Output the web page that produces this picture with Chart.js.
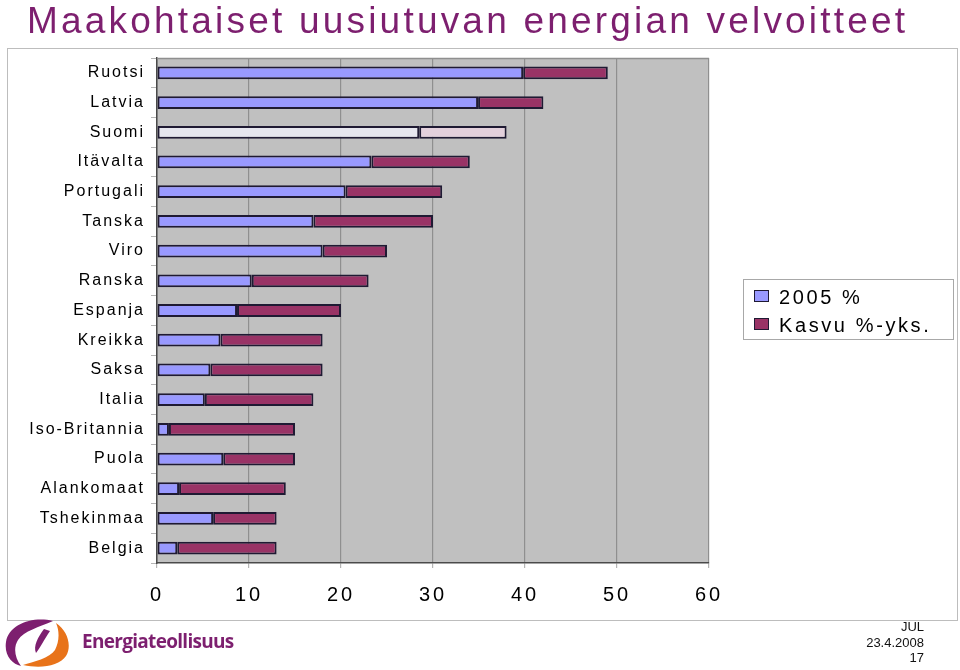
<!DOCTYPE html>
<html>
<head>
<meta charset="utf-8">
<script src="https://cdn.jsdelivr.net/npm/chart.js@4/dist/chart.umd.min.js"></script>
<style>
  html, body { margin: 0; padding: 0; background: #ffffff; }
  #wrap { position: relative; width: 960px; height: 670px; overflow: hidden; font-family: "Liberation Sans", Arial, sans-serif; }
  #c { position: absolute; left: 0; top: 0; }
  #title { position: absolute; left: 27px; top: 0px; font-size: 37px; line-height: 42px; color: #7D1F6F; letter-spacing: 3.2px; white-space: nowrap; }
  #frame { position: absolute; left: 7px; top: 48px; width: 949px; height: 571px; border: 1px solid #bdbdbd; pointer-events: none; }
  #legend { position: absolute; left: 743px; top: 279px; width: 209px; height: 59px; background: #fff; border: 1px solid #a8a8a8; }
  .li { position: absolute; left: 10px; height: 26px; font-size: 20px; letter-spacing: 2.6px; color: #000; white-space: nowrap; }
  .sw { position: absolute; left: 0; top: 6px; width: 15px; height: 12px; border: 1.5px solid #1f1a33; box-sizing: border-box; }
  .lt { position: absolute; left: 25px; top: 0px; line-height: 26px; }
  #foot { position: absolute; right: 36px; top: 619px; text-align: right; font-size: 13px; line-height: 15.5px; color: #111; }
  #brand { position: absolute; left: 82px; top: 628px; font-family: "Open Sans", sans-serif; font-weight: 700; font-size: 19px; letter-spacing: -0.7px; color: #7D1F6F; }
  #logo { position: absolute; left: 3px; top: 618px; }
</style>
</head>
<body>
<div id="wrap">
  <canvas id="c" width="960" height="670"></canvas>
  <div id="frame"></div>
  <div id="title">Maakohtaiset uusiutuvan energian velvoitteet</div>
  <div id="legend"></div>
  <svg id="logo" width="72" height="50" viewBox="0 0 72 50">
    <path d="M50,3 C30,-2 6,6 3,24 C1,37 9,46 18,48 C12,40 10,30 15,22 C21,13 36,9 50,3 Z" fill="#7D1F6F"/>
    <path d="M41,11 C35,19 30,28 33,35 C37,30 41,22 47,13 Z" fill="#7D1F6F"/>
    <path d="M53,5 C65,13 69,28 63,38 C56,48 38,51 20,47 C30,44 47,40 52,32 C56,24 57,14 53,5 Z" fill="#E8731A"/>
  </svg>
  <div id="brand">Energiateollisuus</div>
  <div id="foot">JUL<br>23.4.2008<br>17</div>
</div>
<script>
const categories = ['Ruotsi','Latvia','Suomi','Itävalta','Portugali','Tanska','Viro','Ranska','Espanja','Kreikka','Saksa','Italia','Iso-Britannia','Puola','Alankomaat','Tshekinmaa','Belgia'];
const share2005 = [39.8, 34.9, 28.5, 23.3, 20.5, 17.0, 18.0, 10.3, 8.7, 6.9, 5.8, 5.2, 1.3, 7.2, 2.4, 6.1, 2.2];
const increase  = [9.2, 7.1, 9.5, 10.7, 10.5, 13.0, 7.0, 12.7, 11.3, 11.1, 12.2, 11.8, 13.7, 7.8, 11.6, 6.9, 10.8];
const seriesNames = ['2005 %', 'Kasvu %-yks.'];
const xMin = 0, xMax = 60, xStep = 10;
const highlighted = 'Suomi';

const COL_BLUE = '#9999FF', COL_RED = '#993366';
const COL_BLUE_HI = '#E6E6EE', COL_RED_HI = '#E3D0DC';
const EDGE = '#1f1a33';

const letterSpacingPlugin = {
  id: 'letterSpacing',
  afterLayout(chart) {
    const sp = { x: '3px', y: '2px' };
    Object.keys(sp).forEach(id => {
      const s = chart.scales[id];
      if (s && !s._lsPatched) {
        const orig = s.drawLabels;
        s.drawLabels = function(area) {
          const ctx = this.ctx;
          const prev = ctx.letterSpacing;
          ctx.letterSpacing = sp[id];
          orig.call(this, area);
          ctx.letterSpacing = prev || '0px';
        };
        s._lsPatched = true;
      }
    });
  }
};

const plotBg = {
  id: 'plotBg',
  beforeDraw(chart) {
    const a = chart.chartArea, ctx = chart.ctx;
    ctx.save();
    ctx.fillStyle = '#C0C0C0';
    ctx.fillRect(a.left, a.top, a.right - a.left, a.bottom - a.top);
    ctx.restore();
  },
  afterDraw(chart) {
    const a = chart.chartArea, ctx = chart.ctx;
    ctx.save();
    ctx.strokeStyle = '#8f8f8f';
    ctx.lineWidth = 1.5;
    ctx.beginPath();
    ctx.moveTo(a.left, a.top + 0.5);
    ctx.lineTo(a.right, a.top + 0.5);
    ctx.stroke();
    ctx.restore();
  }
};

const chart = new Chart(document.getElementById('c'), {
  type: 'bar',
  data: {
    labels: categories,
    datasets: [
      {
        label: seriesNames[0],
        data: share2005,
        backgroundColor: c => categories[c.dataIndex] === highlighted ? COL_BLUE_HI : COL_BLUE,
        borderColor: EDGE,
        borderWidth: 2,
        borderSkipped: false,
        barPercentage: 0.86,
        categoryPercentage: 0.5
      },
      {
        label: seriesNames[1],
        data: increase,
        backgroundColor: c => categories[c.dataIndex] === highlighted ? COL_RED_HI : COL_RED,
        borderColor: EDGE,
        borderWidth: 2,
        borderSkipped: false,
        barPercentage: 0.86,
        categoryPercentage: 0.5
      }
    ]
  },
  options: {
    responsive: false,
    animation: false,
    indexAxis: 'y',
    layout: { padding: { left: 0, top: 58, right: 251, bottom: 62 } },
    plugins: { legend: { display: false }, tooltip: { enabled: false }, title: { display: false } },
    scales: {
      x: {
        stacked: true,
        min: xMin, max: xMax,
        ticks: { stepSize: xStep, color: '#000', padding: 15, font: { family: '"Liberation Sans", Arial, sans-serif', size: 20 } },
        grid: { color: '#8f8f8f', lineWidth: 1.2, tickColor: '#b5b5b5', tickLength: 5, drawTicks: true },
        border: { display: true, color: '#4a4a4a', width: 1.5 },
        afterFit(s) { s.height = 45; }
      },
      y: {
        stacked: true,
        ticks: { color: '#000', padding: 6, font: { family: '"Liberation Sans", Arial, sans-serif', size: 16 } },
        grid: { drawOnChartArea: false, drawTicks: true, tickLength: 6, tickColor: '#b5b5b5' },
        border: { display: true, color: '#4a4a4a', width: 1.5 },
        afterFit(s) { s.width = 157; }
      }
    }
  },
  plugins: [letterSpacingPlugin, plotBg]
});

// HTML legend built from the chart's datasets
const legendEl = document.getElementById('legend');
const legendColors = [COL_BLUE, COL_RED];
chart.data.datasets.forEach((ds, i) => {
  const item = document.createElement('div');
  item.className = 'li';
  item.style.top = (4 + i * 28) + 'px';
  const sw = document.createElement('span');
  sw.className = 'sw';
  sw.style.background = legendColors[i];
  const t = document.createElement('span');
  t.className = 'lt';
  t.textContent = ds.label;
  item.appendChild(sw);
  item.appendChild(t);
  legendEl.appendChild(item);
});
</script>
</body>
</html>
